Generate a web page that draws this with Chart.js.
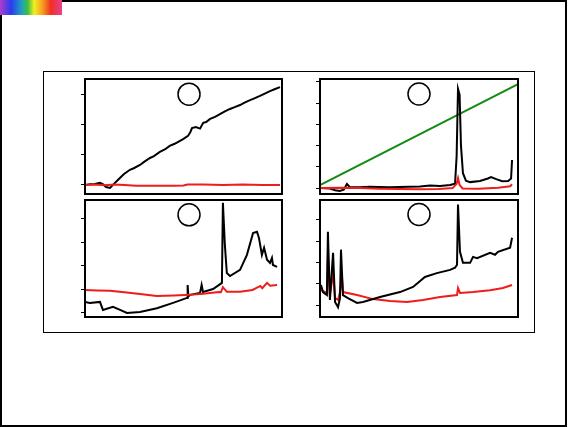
<!DOCTYPE html>
<html>
<head>
<meta charset="utf-8">
<script src="https://cdn.jsdelivr.net/npm/chart.js@4/dist/chart.umd.min.js"></script>
<style>
  html, body { margin: 0; padding: 0; background: #fff; }
  #page { position: relative; width: 568px; height: 427px; overflow: hidden; }
  #frame { position: absolute; left: 0; top: 0; width: 567px; height: 427px; box-sizing: border-box; border: 2px solid #000; }
  #rainbow { position: absolute; left: 0; top: 0; width: 62px; height: 15px;
    background: linear-gradient(to right, #b03cc8 0%, #2a3cf0 18%, #20a0c0 35%, #40c040 45%, #f0f020 55%, #f8a020 68%, #f03020 82%, #e84090 100%); }
  #outer { position: absolute; left: 43px; top: 71px; width: 492px; height: 262px; box-sizing: border-box; border: 1px solid #000; }
  canvas { position: absolute; left: 0; top: 0; }
</style>
</head>
<body>
<div id="page">
  <div id="frame"></div>
  <div id="rainbow"></div>
  <div id="outer"></div>
  <canvas id="tl" width="568" height="427"></canvas>
  <canvas id="tr" width="568" height="427"></canvas>
  <canvas id="bl" width="568" height="427"></canvas>
  <canvas id="br" width="568" height="427"></canvas>
</div>
<script>
// --- data: [x (0..100 across panel), y (tick units)] ---
const tlBlack = [[0,0],[2.5,0.02],[5,0.03],[7.6,0.07],[9,0.03],[10.7,-0.07],[12.7,-0.1],[14.2,0],
  [16.8,0.17],[19.8,0.36],[22.8,0.5],[25,0.56],[27.9,0.66],[30,0.76],[33,0.89],[35,0.95],[38,1.09],
  [40.5,1.17],[43,1.29],[45.5,1.36],[48,1.45],[50,1.52],[52.3,1.62],[53.5,1.75],[54.3,1.88],
  [56.3,1.91],[58.4,1.86],[60,2.05],[61.5,2.08],[63.5,2.18],[66,2.25],[68.5,2.34],[71,2.43],
  [73.6,2.51],[76,2.57],[78.7,2.64],[81,2.72],[83.8,2.8],[86,2.86],[88.8,2.94],[91,3.01],
  [93.9,3.1],[96.5,3.17],[99,3.23]];
const tlRed = [[0,0],[5,0.01],[10,-0.01],[15,0.01],[20,0],[26,-0.03],[35,-0.03],[45,-0.03],
  [50,-0.02],[52,0.01],[60,0.01],[70,0],[80,0.01],[90,0],[99,0]];

const trGreen = [[0,0.14],[100,4.9]];
const trBlack = [[0,0],[5,-0.02],[7.6,-0.1],[10,-0.14],[12,-0.08],[13.6,0.19],[15,0.05],[20,0.04],
  [25,0.06],[30,0.05],[35,0.04],[40,0.05],[45,0.06],[50.5,0.07],[55.6,0.12],[60.6,0.1],[65.7,0.14],
  [68.2,0.2],[69,1.5],[69.7,4.67],[70.5,4.4],[71.2,2.0],[72.2,0.7],[73.7,0.35],[75.8,0.28],
  [80.8,0.33],[84.8,0.45],[86.4,0.52],[89,0.42],[92,0.32],[95,0.33],[96.5,0.45],[97,1.32]];
const trRed = [[0,0],[10,0.02],[20,0],[30,-0.03],[40,-0.05],[50,-0.06],[60,-0.04],[67,0],
  [69,0.2],[69.7,0.47],[70.5,0.15],[72,-0.02],[80,-0.03],[90,0.02],[96,0.08],[97,0.18]];

const blBlack = [[0,0.47],[2.5,0.43],[7.6,0.47],[9.1,0.13],[14.2,0.26],[17.8,0.13],[21.3,0],
  [27.9,0.04],[36.5,0.2],[44.7,0.43],[51.8,0.64],[52.1,1.19],[52.5,0.7],[53.3,0.77],[58.4,0.85],
  [59.2,1.19],[59.9,0.89],[65,1.02],[69.5,1.28],[70,4.68],[71,2.89],[72,1.7],[73.6,1.57],
  [78.7,1.83],[82.2,2.47],[85.3,3.4],[87.3,3.45],[88.3,3.19],[89.8,2.47],[90.9,2.77],[92.4,2.26],
  [93.9,2.13],[94.9,2.34],[95.4,2.04],[97.5,1.96]];
const blRed = [[0,0.98],[6,0.96],[12.7,0.94],[20,0.88],[27.9,0.81],[36.5,0.72],[45,0.74],
  [53.3,0.77],[60,0.82],[68,0.89],[69,0.88],[70,1.1],[72,0.9],[78.7,0.9],[85,0.98],[89,1.15],
  [90,1.05],[92.4,1.28],[94,1.16],[97.5,1.19]];

const brBlack = [[0.5,0.94],[1.5,0.61],[3.5,0.47],[4,3.44],[5,0.24],[6.6,2.45],[7.6,0.14],
  [9.1,-0.1],[10.1,0.33],[10.6,2.6],[11.6,0.47],[14.1,0.33],[18.7,0.1],[21.7,0.14],[30.3,0.38],
  [40.4,0.61],[47,0.85],[53,1.32],[59,1.5],[65.7,1.65],[68.2,1.75],[69.2,1.89],[69.7,4.72],
  [70.7,2.5],[72.2,1.98],[75.8,1.98],[77.3,2.26],[79.3,2.2],[85.9,2.45],[88.4,2.36],[89.9,2.5],
  [96,2.69],[97,3.16]];
const brRed = [[0.5,0.7],[3.5,0.57],[4,2.36],[5,0.47],[6.6,1.5],[7.6,0.33],[9.1,0.24],[10.1,0.61],
  [11.1,1.32],[11.6,0.61],[18.7,0.47],[26.8,0.28],[35.4,0.19],[44,0.14],[52,0.24],[60.6,0.38],
  [69.2,0.47],[69.7,0.8],[70.7,0.57],[77.3,0.61],[85.9,0.7],[92.4,0.8],[97,0.94]];

// y tick values and axis ranges for each panel
const tlTicks = [0, 1, 2, 3];
const trTicks = [0, 1, 2, 3, 4, 5];
const blTicks = [0, 1, 2, 3, 4];
const brTicks = [0, 1, 2, 3, 4];
const tlRange = [-0.3, 3.5];
const trRange = [-0.28, 5.14];
const blRange = [-0.17, 4.8];
const brRange = [-0.56, 4.93];

// label circles (x, y in data units)
const tlMark = [[52.8, 3.0]];
const trMark = [[50, 4.43]];
const blMark = [[52.8, 4.17]];
const brMark = [[50, 4.25]];

const BLACK = '#000000', RED = '#ee1c1c', GREEN = '#138a13';

const pts = arr => arr.map(p => ({ x: p[0], y: p[1] }));

const framePlugin = {
  id: 'frame',
  afterDatasetsDraw(chart) {
    const a = chart.chartArea, ctx = chart.ctx;
    ctx.save();
    ctx.strokeStyle = '#000';
    ctx.lineWidth = 2;
    ctx.strokeRect(a.left, a.top, a.right - a.left, a.bottom - a.top);
    ctx.restore();
  }
};

function line(data, color) {
  return { type: 'line', data: pts(data), borderColor: color, borderWidth: 2, pointRadius: 0, tension: 0, fill: false };
}

function makePanel(id, box, range, ticks, lines, mark) {
  new Chart(document.getElementById(id), {
    type: 'scatter',
    data: { datasets: [
      ...lines,
      { type: 'scatter', data: pts(mark), pointStyle: 'circle', pointRadius: 11, borderWidth: 1.5,
        borderColor: '#000', backgroundColor: 'rgba(0,0,0,0)', clip: false },
    ] },
    options: {
      responsive: false, animation: false, events: [],
      layout: { padding: { left: box[0] - 4, top: box[1], right: 568 - box[2], bottom: 427 - box[3] } },
      plugins: { legend: { display: false }, tooltip: { enabled: false } },
      scales: {
        x: { type: 'linear', display: false, min: 0, max: 100 },
        y: {
          type: 'linear', min: range[0], max: range[1],
          afterBuildTicks: s => { s.ticks = ticks.map(v => ({ value: v })); },
          ticks: { display: false },
          grid: { drawOnChartArea: false, drawTicks: true, tickLength: 4, color: '#000', lineWidth: 1 },
          border: { display: false },
        },
      },
    },
    plugins: [framePlugin],
  });
}

makePanel('tl', [85, 79, 282, 194], tlRange, tlTicks, [line(tlRed, RED), line(tlBlack, BLACK)], tlMark);
makePanel('tr', [320, 79, 518, 194], trRange, trTicks, [line(trRed, RED), line(trBlack, BLACK), line(trGreen, GREEN)], trMark);
makePanel('bl', [85, 200, 282, 317], blRange, blTicks, [line(blRed, RED), line(blBlack, BLACK)], blMark);
makePanel('br', [320, 200, 518, 317], brRange, brTicks, [line(brBlack, BLACK), line(brRed, RED)], brMark);
</script>
</body>
</html>
